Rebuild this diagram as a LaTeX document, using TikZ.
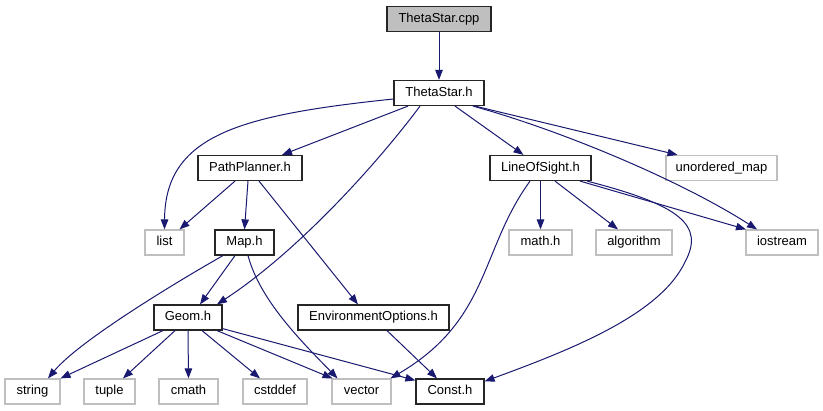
\documentclass[tikz,border=0pt]{standalone}
\usepackage{fontspec}
\setmainfont{Liberation Sans}
\usetikzlibrary{arrows.meta}
\definecolor{edgec}{HTML}{191970}
\definecolor{greyb}{HTML}{BFBFBF}
\begin{document}
\begin{tikzpicture}[x=1pt,y=-1pt,
  every node/.style={font=\fontsize{13}{15}\selectfont, inner sep=0pt, minimum height=25pt, text height=9.5pt, text depth=2.8pt, anchor=center},
  mainbox/.style={draw=black!85, line width=1.2pt, fill=white},
  rootbox/.style={draw=black!85, line width=1.2pt, fill=greyb},
  sysbox/.style={draw=greyb, line width=1.2pt, fill=white},
  dep/.style={draw=edgec, line width=1pt, -{Triangle[length=10pt,width=7.5pt]}}
]
\useasboundingbox (0,0) rectangle (823,411);
% nodes
\node[rootbox, minimum width=104pt] (cpp) at (439,19) {ThetaStar.cpp};
\node[mainbox, minimum width=90pt] (tsh) at (439,93) {ThetaStar.h};
\node[mainbox, minimum width=104pt] (pp) at (250,168) {PathPlanner.h};
\node[mainbox, minimum width=101pt] (los) at (540.5,168) {LineOfSight.h};
\node[sysbox, minimum width=111pt] (um) at (721.5,168) {unordered\_map};
\node[sysbox, minimum width=39pt] (list) at (164.5,242.5) {list};
\node[mainbox, minimum width=59pt] (maph) at (244.5,242.5) {Map.h};
\node[sysbox, minimum width=63pt] (math) at (540.5,242.5) {math.h};
\node[sysbox, minimum width=76pt] (algo) at (634,242.5) {algorithm};
\node[sysbox, minimum width=72pt] (ios) at (782,242.5) {iostream};
\node[mainbox, minimum width=68pt] (geom) at (188,317.5) {Geom.h};
\node[mainbox, minimum width=151pt] (env) at (373.5,317.5) {EnvironmentOptions.h};
\node[sysbox, minimum width=55pt] (string) at (32.5,391.5) {string};
\node[sysbox, minimum width=51pt] (tuple) at (109.5,391.5) {tuple};
\node[sysbox, minimum width=59pt] (cmath) at (188.5,391.5) {cmath};
\node[sysbox, minimum width=64pt] (cstddef) at (275,391.5) {cstddef};
\node[sysbox, minimum width=59pt] (vector) at (361.5,391.5) {vector};
\node[mainbox, minimum width=68pt] (const) at (450,391.5) {Const.h};
% edges
\draw[dep] (cpp.south) -- (tsh.north);
\draw[dep] ([yshift=-6pt]tsh.west) .. controls (240,115) and (165,135) .. (list.north);
\draw[dep] ([xshift=-31pt]tsh.south) -- ([xshift=32pt]pp.north);
\draw[dep] ([xshift=-19pt]tsh.south) .. controls (380,160) and (300,250) .. ([xshift=29pt]geom.north);
\draw[dep] ([xshift=16pt]tsh.south) -- ([xshift=-17pt]los.north);
\draw[dep] ([xshift=36pt]tsh.south) -- ([xshift=-44pt]um.north);
\draw[dep] ([xshift=34pt]tsh.south) .. controls (560,130) and (680,180) .. ([xshift=-25pt]ios.north);
\draw[dep] ([xshift=-15pt]pp.south) -- ([xshift=15pt]list.north);
\draw[dep] ([xshift=-2pt]pp.south) -- (maph.north);
\draw[dep] ([xshift=9pt]pp.south) -- ([xshift=-15.5pt]env.north);
\draw[dep] (los.south) -- (math.north);
\draw[dep] ([xshift=14.5pt]los.south) -- ([xshift=-16pt]algo.north);
\draw[dep] ([xshift=39.5pt]los.south) -- ([xshift=-36pt]ios.north);
\draw[dep] ([xshift=-10.5pt]los.south) .. controls (480,250) and (490,320) .. ([xshift=29pt]vector.north);
\draw[dep] ([xshift=46.5pt]los.south) .. controls (680,205) and (705,225) .. (685,262) .. controls (660,315) and (570,350) .. ([yshift=-3pt]const.north east);
\draw[dep] ([xshift=-21.5pt]maph.south) .. controls (180,280) and (80,340) .. ([xshift=15.5pt]string.north);
\draw[dep] ([xshift=-9.5pt]maph.south) -- ([xshift=12pt]geom.north);
\draw[dep] ([xshift=3.5pt]maph.south) .. controls (260,300) and (300,340) .. ([xshift=-24pt]vector.north);
\draw[dep] ([xshift=-25pt]geom.south) -- ([xshift=28pt]string.north);
\draw[dep] ([xshift=-13pt]geom.south) -- ([xshift=13.5pt]tuple.north);
\draw[dep] (geom.south) -- (cmath.north);
\draw[dep] ([xshift=14pt]geom.south) -- ([xshift=-15pt]cstddef.north);
\draw[dep] ([xshift=29pt]geom.south) -- ([xshift=-29pt]vector.north);
\draw[dep] ([yshift=2pt]geom.south east) -- ([yshift=-2pt]const.north west);
\draw[dep] ([xshift=13.5pt]env.south) -- ([xshift=-13pt]const.north);
\end{tikzpicture}
\end{document}
